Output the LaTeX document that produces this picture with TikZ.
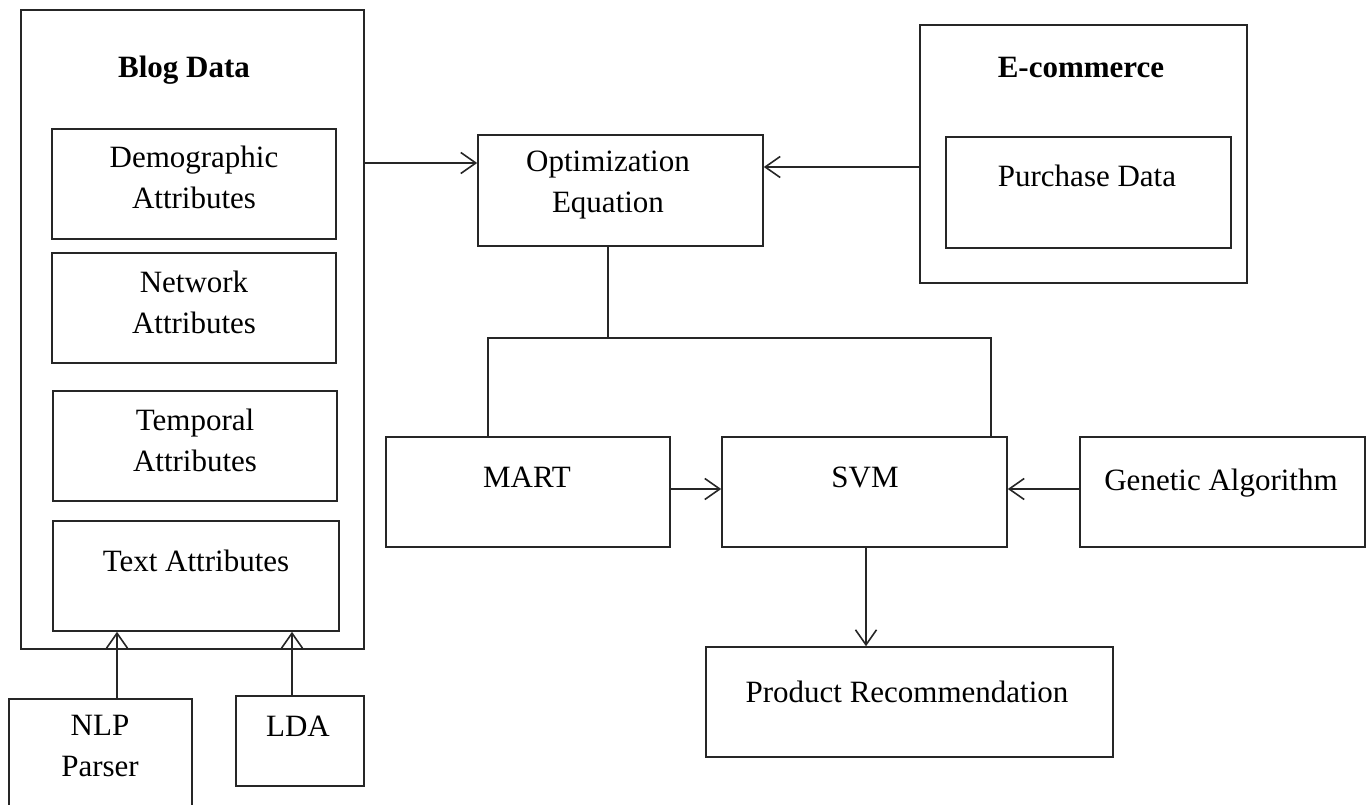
\documentclass[tikz,border=0pt]{standalone}
\usepackage{fontspec}
\setmainfont{Liberation Serif}
\usetikzlibrary{arrows.meta}
\tikzset{
  box/.style={draw=black!85, line width=1.6pt, inner sep=0pt, fill=none},
  lbl/.style={inner sep=0pt, align=center, anchor=base, font=\fontsize{31}{41}\selectfont},
  ttl/.style={lbl, font=\fontsize{31}{41}\selectfont\bfseries},
  conn/.style={draw=black!85, line width=1.6pt},
  arr/.style={conn, -{Straight Barb[length=15pt,width=21pt,line width=1.6pt]}}
}
\newcommand\mkbox[5]{\node[box, minimum width={#4-#2}, minimum height={#5-#3}] (#1) at ({(#2+#4)/2},{(#3+#5)/2}) {};}
\begin{document}
\begin{tikzpicture}[x=1pt,y=-1pt]
\useasboundingbox (0,0) rectangle (1368,805);
\clip (0,0) rectangle (1368,805);
% boxes
\mkbox{blog}{21}{10}{364}{649}
\mkbox{dem}{52}{129}{336}{239}
\mkbox{net}{52}{253}{336}{363}
\mkbox{tem}{53}{391}{337}{501}
\mkbox{txt}{53}{521}{339}{631}
\mkbox{nlp}{9}{699}{192}{830}
\mkbox{lda}{236}{696}{364}{786}
\mkbox{opt}{478}{135}{763}{246}
\mkbox{ecom}{920}{25}{1247}{283}
\mkbox{pur}{946}{137}{1231}{248}
\mkbox{mart}{386}{437}{670}{547}
\mkbox{svm}{722}{437}{1007}{547}
\mkbox{gen}{1080}{437}{1365}{547}
\mkbox{prod}{706}{647}{1113}{757}
% labels (two-line labels anchored at the baseline of their last line)
\node[ttl] (blogT) at (184,78) {Blog Data};
\node[lbl] (demT) at (194,209) {Demographic\\Attributes};
\node[lbl] (netT) at (194,333) {Network\\Attributes};
\node[lbl] (temT) at (195,471) {Temporal\\Attributes};
\node[lbl] (txtT) at (196,571) {Text Attributes};
\node[lbl] (nlpT) at (100,776) {NLP\\Parser};
\node[lbl] (ldaT) at (298,736) {LDA};
\node[lbl] (optT) at (608,213) {Optimization\\Equation};
\node[ttl] (ecomT) at (1081,78) {E-commerce};
\node[lbl] (purT) at (1087,187) {Purchase Data};
\node[lbl] (martT) at (527,487) {MART};
\node[lbl] (svmT) at (865,487) {SVM};
\node[lbl] (genT) at (1221,490) {Genetic Algorithm};
\node[lbl] (prodT) at (907,702) {Product Recommendation};
% connectors
\coordinate (j) at (608,338);
\coordinate (jl) at (488,338);
\coordinate (jr) at (991,338);
\draw[arr] (blog.east |- 0,163) -- (opt.west |- 0,163);
\draw[arr] (ecom.west |- 0,167) -- (opt.east |- 0,167);
\draw[conn] (j |- opt.south) -- (j);
\draw[conn] (jl |- mart.north) -- (jl) -- (jr) -- (jr |- svm.north);
\draw[arr] (mart.east |- 0,489) -- (svm.west |- 0,489);
\draw[arr] (gen.west |- 0,489) -- (svm.east |- 0,489);
\draw[arr] (svm.south -| 866,0) -- (prod.north -| 866,0);
\draw[arr] (nlp.north -| 117,0) -- (txt.south -| 117,0);
\draw[arr] (lda.north -| 292,0) -- (txt.south -| 292,0);
\end{tikzpicture}
\end{document}
